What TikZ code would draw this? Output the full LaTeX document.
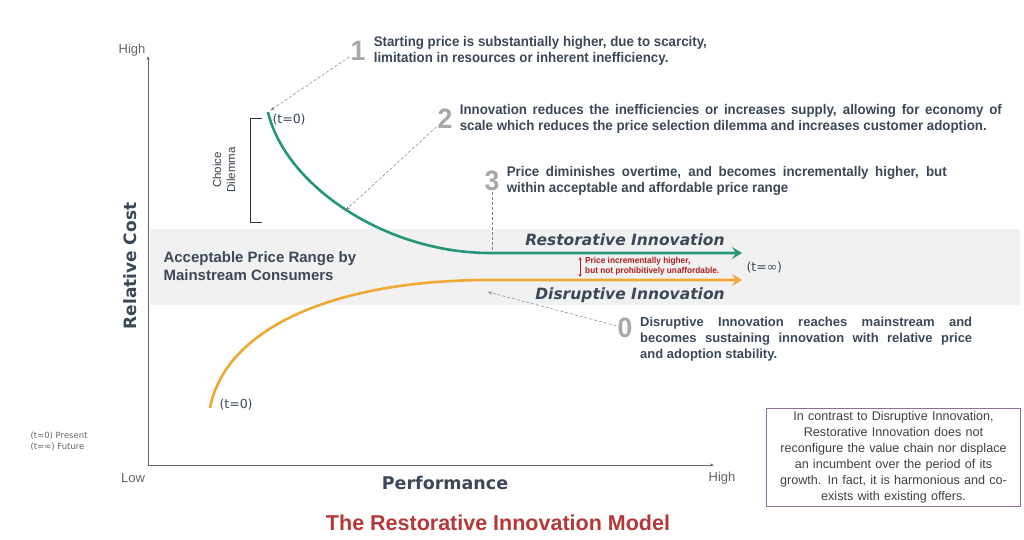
\documentclass[tikz,border=0pt]{standalone}
\usepackage{fontspec}
\setmainfont{Liberation Sans}
\newfontfamily\verdana{DejaVu Sans}
\newfontfamily\narrow[FakeStretch=0.95]{Liberation Sans}
\usepackage{xcolor}
\usetikzlibrary{arrows.meta, positioning}
\definecolor{slate}{RGB}{60, 72, 88}
\definecolor{restgreen}{RGB}{38, 150, 122}
\definecolor{disorange}{RGB}{240, 168, 52}
\definecolor{bandgray}{RGB}{241, 241, 241}
\definecolor{numgray}{RGB}{168, 168, 168}
\definecolor{titlered}{RGB}{180, 56, 56}
\definecolor{gapred}{RGB}{176, 30, 30}
\definecolor{boxframe}{RGB}{140, 110, 150}
\definecolor{axisgray}{RGB}{100, 100, 100}

\begin{document}
\begin{tikzpicture}[x=1pt, y=-1pt,
    axis/.style={-{Stealth[length=4pt, width=3pt]}, draw=axisgray, line width=0.6pt},
    ticklabel/.style={font=\fontsize{13}{15}\selectfont, text=axisgray},
    curve/.style={line width=2.6pt, -{Stealth[length=10pt, width=12pt, inset=4pt]}},
    num/.style={font=\narrow\bfseries\fontsize{28}{28}\selectfont, text=numgray, inner sep=1pt},
    note/.style={font=\narrow\bfseries\fontsize{14}{16}\selectfont, text=slate, align=left, inner sep=0pt},
    lead/.style={dash pattern=on 3pt off 2pt, draw=gray, line width=0.5pt, -{Stealth[length=4pt, width=3pt]}},
    tlabel/.style={font=\verdana\fontsize{12.5}{14}\selectfont, text=slate, anchor=west},
    trend/.style={font=\verdana\bfseries\itshape\fontsize{15.5}{17}\selectfont, text=slate}
]
  \useasboundingbox (0,0) rectangle (1024,539);

  % Price band
  \fill[bandgray] (150,229) rectangle (1020,305);
  \node[font=\bfseries\fontsize{15}{18}\selectfont, text=slate, align=left, anchor=west]
    (band) at (160,266) {Acceptable Price Range by\\Mainstream Consumers};

  % Axes
  \coordinate (origin) at (148,465);
  \coordinate (ytop) at (148,56);
  \coordinate (xend) at (714,465);
  \draw[axis] (origin) -- (ytop);
  \draw[axis] (origin) -- (xend);
  \node[ticklabel] (yhigh) at (132,50) {High};
  \node[ticklabel] (ylow) at (133,478) {Low};
  \node[ticklabel] (xhigh) at (722,478) {High};
  \node[font=\verdana\bfseries\fontsize{17}{19}\selectfont, text=slate, rotate=90]
    (ylabel) at (130,266) {Relative Cost};
  \node[font=\verdana\bfseries\fontsize{17.5}{19}\selectfont, text=slate]
    (xlabel) at (445,483) {Performance};
  \node[font=\bfseries\fontsize{21.5}{23}\selectfont, text=titlered]
    (title) at (498,523) {The Restorative Innovation Model};

  % Curves
  \coordinate (g0) at (268,112);
  \coordinate (g1) at (490,253);
  \coordinate (gend) at (742,253);
  \coordinate (o0) at (210,408);
  \coordinate (o1) at (490,280);
  \coordinate (oend) at (742,280);
  \draw[curve, restgreen] (g0) .. controls (285,185) and (385,253) .. (g1)
    coordinate[pos=0.5] (p2) -- (gend);
  \draw[curve, disorange] (o0) .. controls (225,330) and (330,280) .. (o1) -- (oend);
  \node[tlabel] (gt0) at (269,120) {(t=0)};
  \node[tlabel] (ot0) at (216,405) {(t=0)};
  \node[tlabel] (tinf) at (743,268) {(t=∞)};
  \node[trend] (rest) at (625,240) {Restorative Innovation};
  \node[trend] (disr) at (630,295) {Disruptive Innovation};

  % Gap between the two
  \coordinate (gaptop) at (580,257);
  \coordinate (gapbot) at (580,277);
  \draw[{Stealth[length=3pt, width=3pt]}-{Stealth[length=3pt, width=3pt]}, gapred, line width=0.7pt]
    (gaptop) -- (gapbot);
  \node[font=\narrow\bfseries\fontsize{8.7}{10}\selectfont, text=gapred, align=left, anchor=west, inner sep=0pt]
    (gap) at (585,266) {Price incrementally higher,\\but not prohibitively unaffordable.};

  % Choice dilemma bracket
  \draw[black!80, line width=0.8pt] (262,118) -- (250,118) -- (250,222) -- (262,222);
  \node[font=\fontsize{11.5}{14}\selectfont, text=slate!90!black, rotate=90, align=center]
    (dilemma) at (224,170) {Choice\\Dilemma};

  % Numbered notes
  \node[num] (n1) at (358,51) {1};
  \node[note, right=7pt of n1] (t1)
    {Starting price is substantially higher, due to scarcity,\\limitation in resources or inherent inefficiency.};
  \node[num] (n2) at (445,119) {2};
  \node[note, right=6pt of n2] (t2)
    {\makebox[542pt][s]{Innovation reduces the inefficiencies or increases supply, allowing for economy of}\\
     scale which reduces the price selection dilemma and increases customer adoption.};
  \node[num] (n3) at (492,181) {3};
  \node[note, right=6pt of n3] (t3)
    {\makebox[440pt][s]{Price diminishes overtime, and becomes incrementally higher, but}\\
     within acceptable and affordable price range};
  \node[num] (n0) at (625,328) {0};
  \node[note, font=\bfseries\fontsize{13}{16}\selectfont, anchor=north west] (t0) at (640,317)
    {\makebox[332pt][s]{Disruptive Innovation reaches mainstream and}\\
     \makebox[332pt][s]{becomes sustaining innovation with relative price}\\
     and adoption stability.};

  % Leaders
  \draw[lead, shorten >=3pt] (n1) -- (g0);
  \draw[lead] (n2) -- (p2);
  \draw[lead, -] (n3.south) -- (n3.south |- g1);
  \coordinate (p0) at (488,292);
  \draw[lead] (n0) -- (p0);

  % Legend and side box
  \node[font=\verdana\fontsize{8.5}{11}\selectfont, text=axisgray, align=left, anchor=west]
    (legend) at (27,441) {(t=0) Present\\(t=∞) Future};
  \node[draw=boxframe, line width=0.6pt, minimum width=253pt, minimum height=98pt,
        text width=247pt, align=center, font=\fontsize{12.6}{16}\selectfont, text=black!75]
    (contrast) at (893.5,457)
    {In contrast to Disruptive Innovation,\\Restorative Innovation does not\\
     reconfigure the value chain nor displace\\an incumbent over the period of its\\
     growth. In fact, it is harmonious and co-\\exists with existing offers.};
\end{tikzpicture}
\end{document}
